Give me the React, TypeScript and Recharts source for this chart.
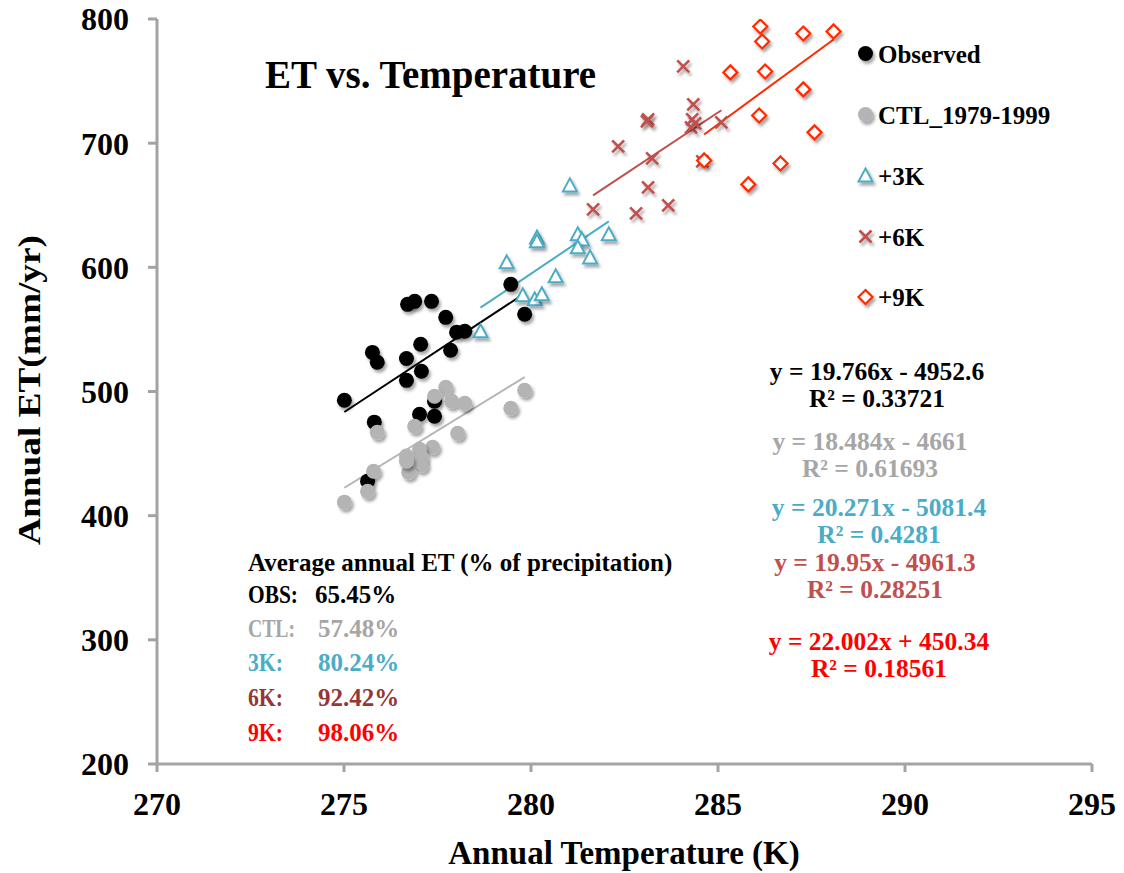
import React from 'react';
import { ScatterChart, Scatter, XAxis, YAxis, ReferenceLine, Customized } from 'recharts';

const FONT = "'Liberation Serif', 'Times New Roman', serif";

// ---- data ----
const obsTemp = [276.70, 276.89, 277.34, 277.72, 278.01, 278.23, 277.05, 275.76, 275.89, 276.67, 277.85, 277.07, 276.67, 275.01, 277.42, 277.02, 277.42, 275.81, 275.63, 279.46, 279.83];
const obsET = [570.2, 572.6, 572.6, 559.7, 547.7, 548.5, 538.0, 531.5, 523.5, 526.6, 533.2, 516.3, 509.0, 493.0, 492.2, 481.7, 480.1, 475.3, 427.8, 586.3, 562.2];

const ctlTemp = [277.72, 277.42, 277.88, 278.23, 279.83, 279.46, 276.89, 275.89, 278.04, 277.37, 277.02, 276.67, 277.07, 277.07, 276.73, 275.79, 275.63, 275.01, 276.67];
const ctlET = [503.4, 496.2, 492.2, 490.5, 501.0, 486.5, 472.0, 467.2, 466.4, 455.1, 453.5, 448.0, 447.1, 440.6, 435.0, 435.8, 419.7, 410.9, 444.0];

const k3Temp = [281.04, 280.16, 280.16, 281.25, 281.36, 281.25, 282.08, 281.58, 279.35, 280.66, 279.78, 280.10, 280.29, 278.65];
const k3ET = [666.0, 624.0, 621.0, 626.6, 622.5, 616.1, 626.6, 608.0, 604.0, 592.8, 577.5, 574.2, 578.3, 548.5];

const k6Temp = [284.07, 284.34, 283.13, 283.10, 284.31, 284.28, 284.39, 285.09, 282.33, 283.24, 284.58, 283.13, 283.67, 282.81, 281.66];
const k6ET = [761.8, 731.2, 719.1, 717.5, 719.1, 712.7, 716.0, 716.7, 697.4, 687.7, 685.3, 664.4, 649.9, 643.5, 646.7];

const k9Temp = [286.13, 286.18, 287.28, 288.09, 285.33, 286.26, 287.28, 286.10, 287.58, 284.63, 286.67, 285.81];
const k9ET = [794.0, 781.9, 788.3, 790.0, 757.0, 757.7, 743.3, 722.3, 708.7, 686.1, 683.7, 666.8];

// trend line end points [temp, ET]
const obsTrend = [[275.01, 483.5], [279.83, 579.0]];
const ctlTrend = [[275.01, 422.5], [279.83, 511.5]];
const k3Trend = [[278.65, 567.5], [282.08, 637.0]];
const k6Trend = [[281.66, 658.0], [285.09, 726.5]];
const k9Trend = [[284.63, 707.0], [288.09, 783.5]];

const xTicks = [270, 275, 280, 285, 290, 295];
const yTicks = [200, 300, 400, 500, 600, 700, 800];

const seriesNames = ['Observed', 'CTL_1979-1999', '+3K', '+6K', '+9K'];

const avgLabels = ['OBS:', 'CTL:', '3K:', '6K:', '9K:'];
const avgValues = ['65.45%', '57.48%', '80.24%', '92.42%', '98.06%'];

const eqLines = ['y = 19.766x - 4952.6', 'y = 18.484x - 4661', 'y = 20.271x - 5081.4', 'y = 19.95x - 4961.3', 'y = 22.002x + 450.34'];
const r2Values = ['0.33721', '0.61693', '0.4281', '0.28251', '0.18561'];

const zip = (xs: number[], ys: number[]) => xs.map((x, i) => ({ x, y: ys[i] }));
const obsData = zip(obsTemp, obsET);
const ctlData = zip(ctlTemp, ctlET);
const k3Data = zip(k3Temp, k3ET);
const k6Data = zip(k6Temp, k6ET);
const k9Data = zip(k9Temp, k9ET);

const C_OBS = '#000000';
const C_CTL = '#b4b4b4';
const C_3K = '#4bacc6';
const C_6K = '#c0504d';
const C_9K = '#ff2a00';
const AXIS = '#a3a3a3';

// ---- marker shapes ----
const circleShape = (color: string) => (p: any) => (
  <circle cx={p.cx} cy={p.cy} r={7.5} fill={color} filter="url(#mshadow)" />
);
const triangleShape = (p: any) => (
  <polygon
    points={`${p.cx},${p.cy - 7} ${p.cx + 7},${p.cy + 6} ${p.cx - 7},${p.cy + 6}`}
    fill="#fff" stroke={C_3K} strokeWidth={2} filter="url(#mshadow)"
  />
);
const crossShape = (p: any) => (
  <g filter="url(#mshadow)">
    <line x1={p.cx - 6} y1={p.cy - 6} x2={p.cx + 6} y2={p.cy + 6} stroke={C_6K} strokeWidth={2.6} />
    <line x1={p.cx - 6} y1={p.cy + 6} x2={p.cx + 6} y2={p.cy - 6} stroke={C_6K} strokeWidth={2.6} />
  </g>
);
const diamondShape = (p: any) => (
  <polygon
    points={`${p.cx},${p.cy - 7} ${p.cx + 7},${p.cy} ${p.cx},${p.cy + 7} ${p.cx - 7},${p.cy}`}
    fill="#fff" stroke={C_9K} strokeWidth={2.2} filter="url(#mshadow)"
  />
);

const legendShapes = [circleShape(C_OBS), circleShape(C_CTL), triangleShape, crossShape, diamondShape];
const legendY = [53.5, 114.5, 175.5, 236.5, 297];

const avgColors = [C_OBS, '#a6a6a6', C_3K, '#953735', '#ff0000'];
const avgBase = [603, 637, 671, 706, 741];
const avgLabelWidth = [50, 47, 35, 35, 35];

const eqColors = [C_OBS, '#a6a6a6', C_3K, C_6K, '#ff0000'];
const eqCenter = [877, 870, 879, 875, 879];
const eqBase = [380, 450, 516, 571, 650];

const Annotations = () => (
  <g fontFamily={FONT} fontWeight="bold">
    <defs>
      <filter id="mshadow" x="-50%" y="-50%" width="200%" height="200%">
        <feDropShadow dx="2" dy="3" stdDeviation="1.8" floodColor="#000" floodOpacity="0.35" />
      </filter>
    </defs>
    <text x={265} y={88} fontSize={39} fill="#000">ET vs. Temperature</text>

    {seriesNames.map((n, i) => (
      <g key={n}>
        {legendShapes[i]({ cx: 865.5, cy: legendY[i] })}
        <text x={878} y={legendY[i] + 9} fontSize={25} fill="#000">{n}</text>
      </g>
    ))}

    <text x={248} y={571} fontSize={25} fill="#000">Average annual ET (% of precipitation)</text>
    {avgLabels.map((l, i) => (
      <g key={l}>
        <text x={248} y={avgBase[i]} fontSize={25} fill={avgColors[i]}
          textLength={avgLabelWidth[i]} lengthAdjust="spacingAndGlyphs">{l}</text>
        <text x={i === 0 ? 315 : 318} y={avgBase[i]} fontSize={25} fill={avgColors[i]}>{avgValues[i]}</text>
      </g>
    ))}

    {eqLines.map((e, i) => (
      <g key={e} fill={eqColors[i]} textAnchor="middle" fontSize={25.5}>
        <text x={eqCenter[i]} y={eqBase[i]}>{e}</text>
        <text x={eqCenter[i]} y={eqBase[i] + 26.5}>R² = {r2Values[i]}</text>
      </g>
    ))}

    <text x={624} y={864} fontSize={33} fill="#000" textAnchor="middle">Annual Temperature (K)</text>
    <text x={40} y={390} fontSize={32} fill="#000" textAnchor="middle" transform="rotate(-90 40 390)"
      textLength={310} lengthAdjust="spacingAndGlyphs">Annual  ET(mm/yr)</text>
  </g>
);

const tickStyle = { fontSize: 32, fontWeight: 'bold', fill: '#000', fontFamily: FONT } as any;

const seg = (t: number[][]) => [{ x: t[0][0], y: t[0][1] }, { x: t[1][0], y: t[1][1] }];

export default function App() {
  return (
    <div style={{ position: 'absolute', left: 0, top: 0, background: '#fff' }}>
      <ScatterChart width={1124} height={873} margin={{ top: 19, right: 32, bottom: 0, left: 0 }}>
        <XAxis
          type="number" dataKey="x" domain={[270, 295]} ticks={xTicks} interval={0}
          allowDataOverflow
          height={109} tickSize={8} tickMargin={20}
          axisLine={{ stroke: AXIS, strokeWidth: 3 }} tickLine={{ stroke: AXIS, strokeWidth: 3 }}
          tick={tickStyle}
        />
        <YAxis
          type="number" dataKey="y" domain={[200, 800]} ticks={yTicks} interval={0}
          allowDataOverflow
          width={157} tickSize={9} tickMargin={19}
          axisLine={{ stroke: AXIS, strokeWidth: 3 }} tickLine={{ stroke: AXIS, strokeWidth: 3 }}
          tick={tickStyle}
        />
        <Scatter data={obsData} shape={circleShape(C_OBS)} isAnimationActive={false} />
        <Scatter data={ctlData} shape={circleShape(C_CTL)} isAnimationActive={false} />
        <Scatter data={k3Data} shape={triangleShape} isAnimationActive={false} />
        <Scatter data={k6Data} shape={crossShape} isAnimationActive={false} />
        <Scatter data={k9Data} shape={diamondShape} isAnimationActive={false} />
        <ReferenceLine segment={seg(obsTrend)} stroke={C_OBS} strokeWidth={2} ifOverflow="visible" />
        <ReferenceLine segment={seg(ctlTrend)} stroke={C_CTL} strokeWidth={2} ifOverflow="visible" />
        <ReferenceLine segment={seg(k3Trend)} stroke={C_3K} strokeWidth={2} ifOverflow="visible" />
        <ReferenceLine segment={seg(k6Trend)} stroke={C_6K} strokeWidth={2} ifOverflow="visible" />
        <ReferenceLine segment={seg(k9Trend)} stroke={C_9K} strokeWidth={2} ifOverflow="visible" />
        <Customized component={<Annotations />} />
      </ScatterChart>
    </div>
  );
}
